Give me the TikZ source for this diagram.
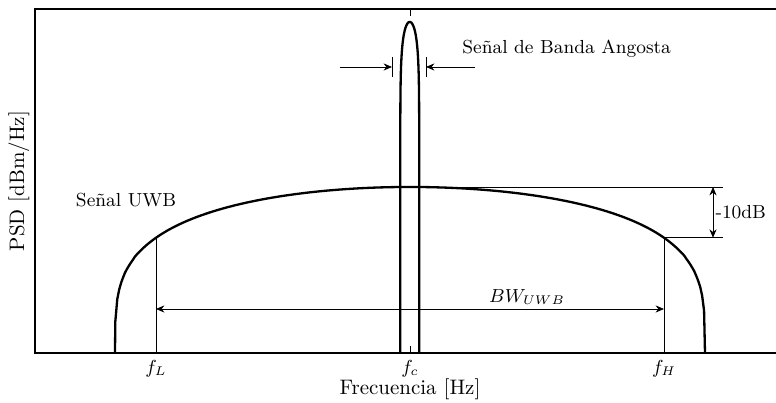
\documentclass[tikz,border=0pt]{standalone}
\usepackage{amsmath}
\usetikzlibrary{arrows.meta,calc}
\begin{document}
\begin{tikzpicture}[x=0.01675cm, y=0.01675cm,
    >={Stealth[length=4pt, width=3.4pt, inset=1.3pt]},
    signal/.style={line width=1.1pt},
    guide/.style={line width=0.4pt},
    frame/.style={line width=0.8pt},
    lbl/.style={font=\small}]
  \useasboundingbox (0,-50) rectangle (776,353);
  \pgfmathsetmacro{\hedge}{166*(1-(254/295)^2)^0.27}
  \pgfmathsetmacro{\hmid}{(166+\hedge)/2}

  % EJES
  \draw[frame] (776,344) -- (35,344) -- (35,0) -- (776,0);
  \draw[guide] (410,344) -- (410,337);
  \draw[guide] (410,0) -- (410,7);

  % SENAL UWB
  \draw[signal] (115,0) -- plot[domain=-0.999:0.999, samples=301]
    ({410+295*\x},{166*(1-(\x)*(\x))^0.27}) -- (705,0);

  % SENAL DE BANDA ANGOSTA
  \draw[signal] (400.25,0) -- plot[domain=-0.999:0.999, samples=201]
    ({409.75+9.5*\x},{331*(1-(\x)*(\x))^0.08}) -- (419.25,0);

  % PUNTOS
  \coordinate (fL) at (156,0);
  \coordinate (fLtop) at (156,\hedge);
  \coordinate (fH) at (664,0);
  \coordinate (fHtop) at (664,\hedge);
  \coordinate (peak) at (410,166);
  \coordinate (dBtop) at (723,166);
  \coordinate (dBlow) at (723,\hedge);
  \coordinate (dBa) at (713,166);
  \coordinate (dBb) at (713,\hedge);
  \coordinate (bwL) at (156,44);
  \coordinate (bwR) at (664,44);
  \coordinate (nbL) at (392,286);
  \coordinate (nbLs) at (340,286);
  \coordinate (nbR) at (426,286);
  \coordinate (nbRs) at (475,286);

  % LINEAS GUIA
  \draw[guide] (fLtop) -- (fL);
  \draw[guide] (fHtop) -- (fH);
  \draw[guide] (peak) -- (dBtop);
  \draw[guide] (fHtop) -- (dBlow);
  \draw[guide, <->] (dBa) -- (dBb);
  \draw[guide, <->] (bwL) -- (bwR);

  % FLECHAS BANDA ANGOSTA
  \draw[guide, ->] (nbLs) -- (nbL);
  \draw[guide] ($(nbL)+(0,-10)$) -- ($(nbL)+(0,10)$);
  \draw[guide, ->] (nbRs) -- (nbR);
  \draw[guide] ($(nbR)+(0,-10)$) -- ($(nbR)+(0,10)$);

  % TEXTOS
  \node[lbl, anchor=west] (nbtext) at (455,304) {Señal de Banda Angosta};
  \node[lbl] (uwbtext) at (126,153) {Señal UWB};
  \node[lbl, anchor=west, inner sep=1.5pt] (dbtext) at (712,\hmid) {-10dB};
  \node[lbl] (bwtext) at (527,56) {$BW_{UWB}$};
  \node[lbl] (fLtext) at (156,-16) {$f_L$};
  \node[lbl] (fctext) at (410,-16) {$f_c$};
  \node[lbl] (fHtext) at (664,-16) {$f_H$};
  \node (freq) at (410,-36) {Frecuencia [Hz]};
  \node[rotate=90] (psd) at (19,172) {PSD [dBm/Hz]};
\end{tikzpicture}
\end{document}
